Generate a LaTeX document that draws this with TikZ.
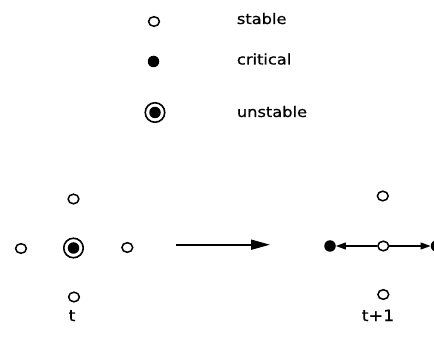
\documentclass[tikz,border=0pt]{standalone}
\usepackage{fontspec}
\usetikzlibrary{shapes.geometric,arrows.meta}
\newfontfamily\labfont{DejaVu Sans}[FakeStretch=1.12,FakeBold=0.6]
\begin{document}
\begin{tikzpicture}[x=1pt,y=-1pt,
  stab/.style={ellipse, draw, line width=1.5pt, minimum width=10.8pt, minimum height=9.6pt, inner sep=0pt},
  crit/.style={circle, fill, minimum size=11.5pt, inner sep=0pt},
  unstring/.style={circle, draw, line width=1.6pt, minimum size=19.5pt, inner sep=0pt},
  txt/.style={anchor=base west, inner sep=0pt, font=\labfont\fontsize{14.5}{17}\selectfont},
  ctxt/.style={anchor=base, inner sep=0pt, font=\labfont\fontsize{15.5}{18}\selectfont},
  bigarrow/.style={line width=1.7pt, -{Triangle[length=19pt,width=10pt]}},
  smallarrow/.style={line width=1.1pt, -{Triangle[length=10pt,width=7pt]}}
]
\useasboundingbox (0,0) rectangle (434,358);
\clip (0,0) rectangle (434,358);
% legend
\node[stab] (ls) at (154,21.5) {};
\node[txt] (lst) at (236.7,24) {stable};
\node[crit] (lc) at (153.5,61.5) {};
\node[txt] (lct) at (236.7,64.5) {critical};
\node[unstring] (lu) at (155,112.5) {};
\node[crit] (lui) at (155,112.5) {};
\node[txt] (lut) at (236.7,117) {unstable};
% left configuration (time t)
\node[unstring] (c) at (73.5,248) {};
\node[crit] (ci) at (73.5,248) {};
\node[stab] (cn) at (73.5,199) {};
\node[stab] (cs) at (74,297) {};
\node[stab] (cw) at (21,248.5) {};
\node[stab] (ce) at (127.3,247.5) {};
\node[ctxt] (tl) at (72,321) {t};
% main arrow
\coordinate (a1) at (176,244.7);
\coordinate (a2) at (270,244.7);
\draw[bigarrow] (a1) -- (a2);
% right configuration (time t+1)
\node[stab] (r) at (383.3,246) {};
\node[stab] (rn) at (382.8,196) {};
\node[stab] (rs) at (383.3,294.5) {};
\node[crit] (rw) at (330,246) {};
\node[crit] (re) at (436.5,246) {};
\draw[smallarrow] (r) -- (rw);
\draw[smallarrow] (r) -- (re);
\node[ctxt] (tr) at (378,321) {t+1};
\end{tikzpicture}
\end{document}
